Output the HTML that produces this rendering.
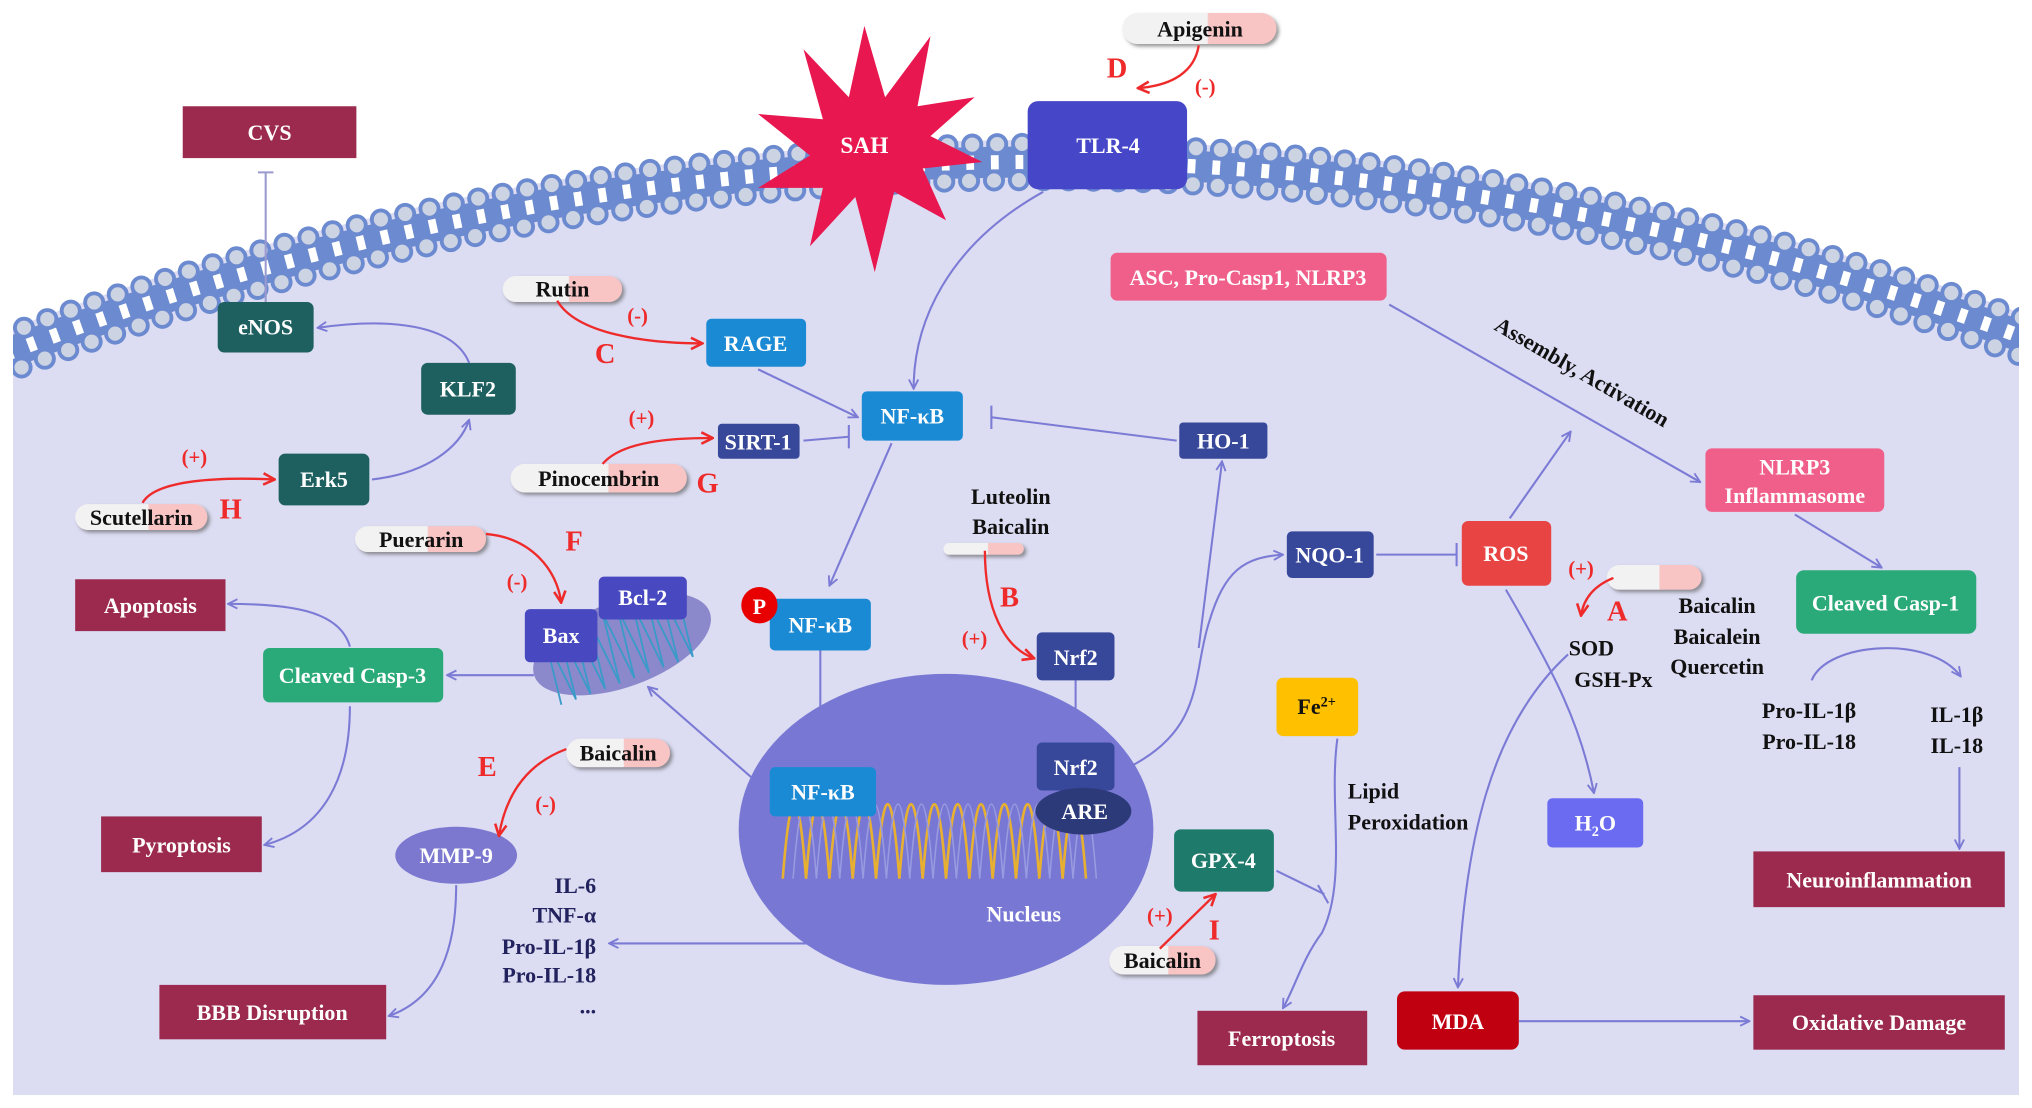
<!DOCTYPE html>
<html><head><meta charset="utf-8"><style>
html,body{margin:0;padding:0;background:#fff;width:2032px;height:1108px;overflow:hidden}
svg{display:block}
text{font-family:"Liberation Serif",serif;font-weight:bold}
</style></head><body>
<svg width="2032" height="1108" viewBox="0 0 1568 855" xmlns="http://www.w3.org/2000/svg">
<defs>
<clipPath id="cell"><rect x="10" y="0" width="1548" height="845"/></clipPath>
<linearGradient id="pill" x1="0" x2="1" y1="0" y2="0">
<stop offset="0" stop-color="#f2f2f2"/><stop offset="0.55" stop-color="#f2f2f2"/><stop offset="0.56" stop-color="#f8c4c4"/><stop offset="1" stop-color="#f8c4c4"/></linearGradient>
<marker id="ab" viewBox="0 0 10 10" refX="9" refY="5" markerWidth="9" markerHeight="9" orient="auto" markerUnits="userSpaceOnUse"><path d="M1,1 L9,5 L1,9" fill="none" stroke="#7b7bd6" stroke-width="1.6"/></marker>
<marker id="ar" viewBox="0 0 10 10" refX="9" refY="5" markerWidth="11" markerHeight="11" orient="auto" markerUnits="userSpaceOnUse"><path d="M1,1 L9,5 L1,9" fill="none" stroke="#ee2a2a" stroke-width="1.8"/></marker>
<filter id="sh" x="-10%" y="-30%" width="130%" height="170%"><feDropShadow dx="2" dy="2" stdDeviation="1.5" flood-color="#555" flood-opacity="0.6"/></filter>
</defs>
<rect width="1568" height="855" fill="#fff"/>
<g clip-path="url(#cell)">
<circle cx="800" cy="2334" r="2226" fill="#dcdcf2"/>
<circle cx="800" cy="2334" r="2209" fill="none" stroke="#6c8ad0" stroke-width="24"/>
<circle cx="800" cy="2334" r="2209" fill="none" stroke="#fff" stroke-width="11" stroke-dasharray="6 13"/>
<circle cx="800" cy="2334" r="2223" fill="none" stroke="#6c8ad0" stroke-width="17" stroke-dasharray="0 19.2" stroke-linecap="round"/>
<circle cx="800" cy="2334" r="2223" fill="none" stroke="#ccd3e2" stroke-width="11" stroke-dasharray="0 19.2" stroke-linecap="round"/>
<circle cx="800" cy="2334" r="2195" fill="none" stroke="#6c8ad0" stroke-width="17" stroke-dasharray="0 19.2" stroke-linecap="round"/>
<circle cx="800" cy="2334" r="2195" fill="none" stroke="#ccd3e2" stroke-width="11" stroke-dasharray="0 19.2" stroke-linecap="round"/>
</g>
<rect x="10" y="845" width="1548" height="10" fill="#fff"/>

<g fill="none" stroke="#7b7bd6" stroke-width="1.6">
<path d="M205,235 L205,133 M199,133 L211,133" stroke="#9a9ad0"/>
<path d="M805,148 C730,190 705,250 705,300" marker-end="url(#ab)"/>
<path d="M585,285 L662,322" marker-end="url(#ab)"/>
<path d="M620,340 L655,337 M655,328 L655,346"/>
<path d="M908,340 L765,322 M765,313 L765,331"/>
<path d="M688,342 L640,452" marker-end="url(#ab)"/>
<path d="M362,280 C350,250 300,245 245,253" marker-end="url(#ab)"/>
<path d="M287,370 C330,365 355,345 362,324" marker-end="url(#ab)"/>
<path d="M633,502 L633,592"/>
<path d="M830,525 L830,573"/>
<path d="M875,590 C930,560 920,520 933,480 C945,440 960,430 990,428" marker-end="url(#ab)"/>
<path d="M925,500 L943,356" marker-end="url(#ab)"/>
<path d="M1062,428 L1124,428 M1124,419 L1124,437"/>
<path d="M1165,400 L1212,333" marker-end="url(#ab)"/>
<path d="M1162,455 C1200,520 1220,560 1230,612" marker-end="url(#ab)"/>
<path d="M1210,505 C1150,560 1130,650 1125,762" marker-end="url(#ab)"/>
<path d="M1072,235 L1312,372" marker-end="url(#ab)"/>
<path d="M1385,397 L1452,438" marker-end="url(#ab)"/>
<path d="M1398,525 C1410,495 1490,490 1513,522" marker-end="url(#ab)"/>
<path d="M1512,592 L1512,655" marker-end="url(#ab)"/>
<path d="M1172,788 L1350,788" marker-end="url(#ab)"/>
<path d="M1032,570 C1025,620 1040,680 1020,720 C1005,740 1000,760 990,778" marker-end="url(#ab)"/>
<path d="M985,672 L1022,690 M1017,683 L1025,697"/>
<path d="M412,521 L345,521" marker-end="url(#ab)"/>
<path d="M270,499 C262,470 220,466 176,466" marker-end="url(#ab)"/>
<path d="M270,545 C270,600 250,640 204,652" marker-end="url(#ab)"/>
<path d="M580,600 L500,530" marker-end="url(#ab)"/>
<path d="M352,683 C352,730 340,770 300,784" marker-end="url(#ab)"/>
<path d="M690,728 L470,728" marker-end="url(#ab)"/>
</g>

<polygon fill="#e8174f" points="667,20 683,75 718,28 708,82 752,75 718,105 758,125 712,130 730,170 690,148 675,210 660,152 625,190 635,145 585,145 625,120 585,88 635,92 620,38 655,75" />
<text x="667" y="118" fill="#fff" font-size="18" text-anchor="middle">SAH</text>

<ellipse cx="730" cy="640" rx="160" ry="120" fill="#7878d4"/>
<path d="M604,678 q9,-115 18,0 q9,-115 18,0 q9,-115 18,0 q9,-115 18,0 q9,-115 18,0 q9,-115 18,0 q9,-115 18,0 q9,-115 18,0 q9,-115 18,0 q9,-115 18,0 q9,-115 18,0 q9,-115 18,0 q9,-115 18,0" fill="none" stroke="#e8b030" stroke-width="2"/>
<path d="M612,678 q9,-115 18,0 q9,-115 18,0 q9,-115 18,0 q9,-115 18,0 q9,-115 18,0 q9,-115 18,0 q9,-115 18,0 q9,-115 18,0 q9,-115 18,0 q9,-115 18,0 q9,-115 18,0 q9,-115 18,0 q9,-115 18,0" fill="none" stroke="#9a9ae0" stroke-width="1.2"/>
<text x="790" y="711" fill="#fff" font-size="17" text-anchor="middle">Nucleus</text>

<g transform="rotate(-20 480 497)">
<ellipse cx="480" cy="497" rx="72" ry="33" fill="#8c88cc"/>
<path d="M420,525 l6,-55 l6,55 l6,-55 l6,55 l6,-55 l6,55 l6,-55 l6,55 l6,-55 l6,55 l6,-55 l6,55 l6,-55 l6,55 l6,-55 l6,55 l6,-55 l6,55 l6,-55" fill="none" stroke="#3a9ac8" stroke-width="1.4"/>
</g>

<g font-size="17" text-anchor="middle" fill="#fff">
<rect x="141" y="82" width="134" height="40" fill="#9b2a4e"/><text x="208" y="108">CVS</text>
<rect x="793" y="78" width="123" height="68" rx="8" fill="#4646c8"/><text x="855" y="118">TLR-4</text>
<rect x="857" y="195" width="213" height="37" rx="5" fill="#ef5f8a"/><text x="963" y="220">ASC, Pro-Casp1, NLRP3</text>
<rect x="1316" y="346" width="138" height="49" rx="5" fill="#ef5f8a"/><text x="1385" y="366">NLRP3</text><text x="1385" y="388">Inflammasome</text>
<rect x="1386" y="440" width="139" height="49" rx="6" fill="#2aaa78"/><text x="1455" y="471">Cleaved Casp-1</text>
<rect x="1353" y="657" width="194" height="43" fill="#9b2a4e"/><text x="1450" y="685">Neuroinflammation</text>
<rect x="1353" y="768" width="194" height="42" fill="#9b2a4e"/><text x="1450" y="795">Oxidative Damage</text>
<rect x="1078" y="765" width="94" height="45" rx="6" fill="#c00010"/><text x="1125" y="794">MDA</text>
<rect x="924" y="780" width="131" height="42" fill="#9b2a4e"/><text x="989" y="807">Ferroptosis</text>
<rect x="985" y="523" width="63" height="45" rx="5" fill="#ffc000"/><text x="1016" y="551" fill="#111">Fe<tspan font-size="11" dy="-6">2+</tspan></text>
<rect x="906" y="640" width="77" height="48" rx="5" fill="#1e7a6a"/><text x="944" y="670">GPX-4</text>
<rect x="1194" y="616" width="74" height="38" rx="4" fill="#6b6bf2"/><text x="1231" y="641">H<tspan font-size="11" dy="4">2</tspan><tspan dy="-4">O</tspan></text>
<rect x="1128" y="402" width="69" height="50" rx="5" fill="#e84444"/><text x="1162" y="433">ROS</text>
<rect x="993" y="410" width="67" height="36" rx="4" fill="#37479a"/><text x="1026" y="434">NQO-1</text>
<rect x="910" y="326" width="68" height="28" rx="3" fill="#37479a"/><text x="944" y="346">HO-1</text>
<rect x="800" y="488" width="60" height="37" rx="4" fill="#37479a"/><text x="830" y="513">Nrf2</text>
<rect x="800" y="573" width="60" height="37" rx="4" fill="#37479a"/><text x="830" y="598">Nrf2</text>
<ellipse cx="836" cy="626" rx="37" ry="18" fill="#2d3a7a"/><text x="837" y="632">ARE</text>
<rect x="594" y="592" width="82" height="38" rx="4" fill="#1a8ad4"/><text x="635" y="617">NF-κB</text>
<rect x="594" y="462" width="78" height="40" rx="4" fill="#1a8ad4"/><text x="633" y="488">NF-κB</text>
<circle cx="586" cy="467" r="14" fill="#e80000"/><text x="586" y="474">P</text>
<rect x="665" y="302" width="78" height="38" rx="4" fill="#1a8ad4"/><text x="704" y="327">NF-κB</text>
<rect x="545" y="246" width="77" height="37" rx="4" fill="#1a8ad4"/><text x="583" y="271">RAGE</text>
<rect x="554" y="327" width="63" height="27" rx="3" fill="#37479a"/><text x="585" y="347">SIRT-1</text>
<rect x="168" y="233" width="74" height="39" rx="5" fill="#1e6060"/><text x="205" y="258">eNOS</text>
<rect x="325" y="280" width="73" height="40" rx="5" fill="#1e6060"/><text x="361" y="306">KLF2</text>
<rect x="215" y="350" width="70" height="40" rx="5" fill="#1e6060"/><text x="250" y="376">Erk5</text>
<rect x="462" y="445" width="68" height="33" rx="4" fill="#4848c0"/><text x="496" y="467">Bcl-2</text>
<rect x="405" y="470" width="56" height="41" rx="4" fill="#4848c0"/><text x="433" y="496">Bax</text>
<rect x="203" y="500" width="139" height="42" rx="5" fill="#2aaa78"/><text x="272" y="527">Cleaved Casp-3</text>
<rect x="58" y="447" width="116" height="40" fill="#9b2a4e"/><text x="116" y="473">Apoptosis</text>
<rect x="78" y="630" width="124" height="43" fill="#9b2a4e"/><text x="140" y="658">Pyroptosis</text>
<ellipse cx="352" cy="660" rx="47" ry="22" fill="#7c78d0"/><text x="352" y="666">MMP-9</text>
<rect x="123" y="760" width="175" height="42" fill="#9b2a4e"/><text x="210" y="787">BBB Disruption</text>
</g>

<g filter="url(#sh)">
<rect x="866" y="10" width="119" height="24" rx="12" fill="url(#pill)"/>
<rect x="388" y="213" width="92" height="20" rx="10" fill="url(#pill)"/>
<rect x="394" y="358" width="136" height="22" rx="11" fill="url(#pill)"/>
<rect x="58" y="389" width="102" height="20" rx="10" fill="url(#pill)"/>
<rect x="274" y="406" width="101" height="20" rx="10" fill="url(#pill)"/>
<rect x="437" y="570" width="80" height="22" rx="11" fill="url(#pill)"/>
<rect x="856" y="730" width="82" height="22" rx="11" fill="url(#pill)"/>
<rect x="728" y="419" width="62" height="9" rx="4.5" fill="url(#pill)"/>
<rect x="1240" y="436" width="73" height="19" rx="9.5" fill="url(#pill)"/>
</g>
<g font-size="17" text-anchor="middle" fill="#111">
<text x="926" y="28">Apigenin</text>
<text x="434" y="229">Rutin</text>
<text x="462" y="375">Pinocembrin</text>
<text x="109" y="405">Scutellarin</text>
<text x="325" y="422">Puerarin</text>
<text x="477" y="587">Baicalin</text>
<text x="897" y="747">Baicalin</text>
<text x="780" y="389">Luteolin</text>
<text x="780" y="412">Baicalin</text>
<text x="1228" y="506">SOD</text>
<text x="1245" y="530">GSH-Px</text>
<text x="1325" y="473">Baicalin</text>
<text x="1325" y="497">Baicalein</text>
<text x="1325" y="520">Quercetin</text>
<text x="1396" y="554">Pro-IL-1β</text>
<text x="1396" y="578">Pro-IL-18</text>
<text x="1510" y="557">IL-1β</text>
<text x="1510" y="581">IL-18</text>
<text x="1040" y="616" text-anchor="start">Lipid</text>
<text x="1040" y="640" text-anchor="start">Peroxidation</text>
<text transform="translate(1218,292) rotate(30)" font-size="17">Assembly, Activation</text>
</g>
<g font-size="17" text-anchor="end" fill="#22225e">
<text x="460" y="689">IL-6</text><text x="460" y="712">TNF-α</text><text x="460" y="736">Pro-IL-1β</text><text x="460" y="758">Pro-IL-18</text><text x="460" y="782">...</text>
</g>

<g fill="none" stroke="#ee2a2a" stroke-width="1.8">
<path d="M925,35 C922,55 905,66 878,68" marker-end="url(#ar)"/>
<path d="M430,232 C445,258 500,265 542,265" marker-end="url(#ar)"/>
<path d="M465,358 C480,340 520,338 550,338" marker-end="url(#ar)"/>
<path d="M110,388 C120,370 170,368 212,370" marker-end="url(#ar)"/>
<path d="M375,412 C410,415 430,440 433,465" marker-end="url(#ar)"/>
<path d="M437,578 C405,590 390,615 385,645" marker-end="url(#ar)"/>
<path d="M760,425 C760,470 775,500 798,508" marker-end="url(#ar)"/>
<path d="M895,732 L938,690" marker-end="url(#ar)"/>
<path d="M1245,446 C1230,452 1222,462 1220,475" marker-end="url(#ar)"/>
</g>
<g fill="#ee2a2a" text-anchor="middle">
<text x="862" y="60" font-size="22">D</text><text x="930" y="72" font-size="16">(-)</text>
<text x="467" y="280" font-size="22">C</text><text x="492" y="249" font-size="16">(-)</text>
<text x="546" y="380" font-size="22">G</text><text x="495" y="328" font-size="16">(+)</text>
<text x="178" y="400" font-size="22">H</text><text x="150" y="358" font-size="16">(+)</text>
<text x="443" y="425" font-size="22">F</text><text x="399" y="454" font-size="16">(-)</text>
<text x="376" y="599" font-size="22">E</text><text x="421" y="626" font-size="16">(-)</text>
<text x="779" y="468" font-size="22">B</text><text x="752" y="498" font-size="16">(+)</text>
<text x="937" y="725" font-size="22">I</text><text x="895" y="712" font-size="16">(+)</text>
<text x="1248" y="479" font-size="22">A</text><text x="1220" y="444" font-size="16">(+)</text>
</g>
</svg>
</body></html>
